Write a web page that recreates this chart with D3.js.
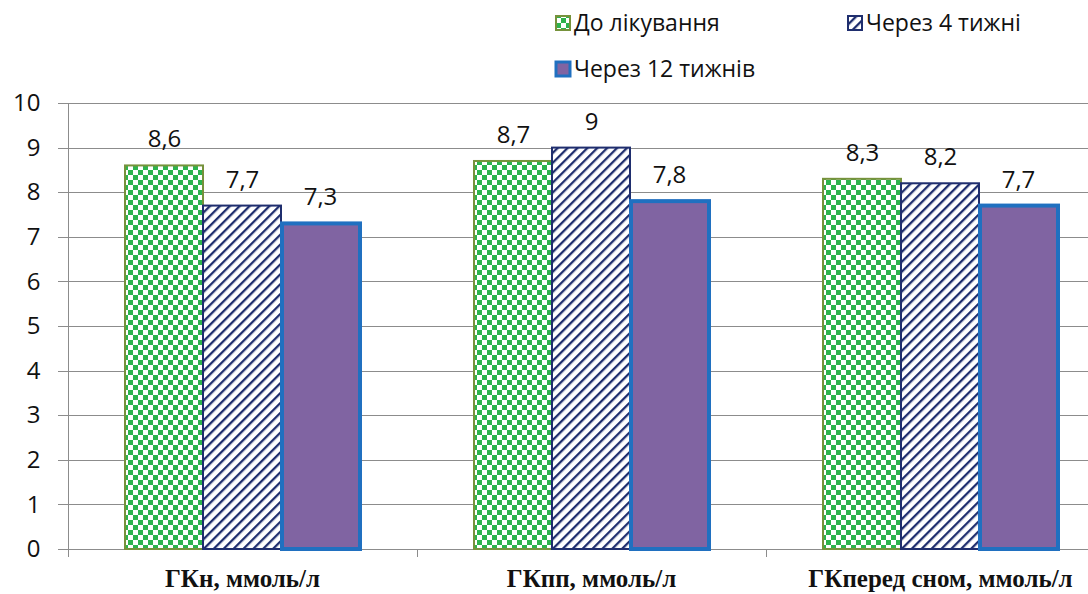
<!DOCTYPE html>
<html>
<head>
<meta charset="utf-8">
<script src="https://cdn.jsdelivr.net/npm/d3@7/dist/d3.min.js"></script>
<style>
  html, body { margin: 0; padding: 0; background: #fff; }
  svg { display: block; }
</style>
</head>
<body>
<svg id="chart" width="1088" height="594"></svg>
<script>
// Glucose levels per measurement, before and after treatment
const categories = ["ГКн, ммоль/л", "ГКпп, ммоль/л", "ГКперед сном, ммоль/л"];
const seriesNames = ["До лікування", "Через 4 тижні", "Через 12 тижнів"];
const beforeTreatment = [8.6, 8.7, 8.3];
const after4Weeks = [7.7, 9, 8.2];
const after12Weeks = [7.3, 7.8, 7.7];
const yTicks = [0, 1, 2, 3, 4, 5, 6, 7, 8, 9, 10];

const seriesValues = [beforeTreatment, after4Weeks, after12Weeks];

const svg = d3.select("#chart");
const W = 1088, H = 594;
const margin = { left: 68, top: 103, bottom: 45 };
const groupStep = 349;
const plotRight = margin.left + groupStep * categories.length;
const baseY = H - margin.bottom;

const numFont = "'Open Sans', 'Noto Sans', sans-serif";

// ---- fill patterns ----
const defs = svg.append("defs");

const checker = defs.append("pattern")
  .attr("id", "checker").attr("patternUnits", "userSpaceOnUse")
  .attr("width", 10).attr("height", 10);
checker.append("rect").attr("width", 10).attr("height", 10).attr("fill", "#ffffff");
checker.append("rect").attr("width", 5).attr("height", 5).attr("fill", "#2db34d");
checker.append("rect").attr("x", 5).attr("y", 5).attr("width", 5).attr("height", 5).attr("fill", "#2db34d");

const hatch = defs.append("pattern")
  .attr("id", "hatch").attr("patternUnits", "userSpaceOnUse")
  .attr("width", 7).attr("height", 7)
  .attr("patternTransform", "rotate(-45)");
hatch.append("rect").attr("width", 7).attr("height", 7).attr("fill", "#ffffff");
hatch.append("rect").attr("width", 7).attr("height", 2.3).attr("fill", "#1f2e6e");

const seriesStyle = [
  { fill: "url(#checker)", stroke: "#76923b", sw: 2 },
  { fill: "url(#hatch)", stroke: "#1f2e6e", sw: 2 },
  { fill: "#8064a2", stroke: "#2070c0", sw: 4 }
];

// ---- scales ----
const x0 = d3.scaleBand().domain(categories).range([margin.left, plotRight]).padding(0);
const x1 = d3.scaleBand().domain(seriesNames).range([0, x0.bandwidth()])
  .paddingInner(0).paddingOuter(0.737);
const y = d3.scaleLinear().domain([0, 10]).range([baseY, margin.top]);

// ---- gridlines ----
svg.append("g").selectAll("line").data(yTicks).join("line")
  .attr("x1", margin.left - 10).attr("x2", W)
  .attr("y1", d => Math.round(y(d)) + 0.5).attr("y2", d => Math.round(y(d)) + 0.5)
  .attr("stroke", "#8c8c8c").attr("stroke-width", 1);

// ---- y axis ----
const yAxis = svg.append("g")
  .attr("transform", `translate(${margin.left + 0.5},0)`)
  .call(d3.axisLeft(y).tickValues(yTicks).tickSize(0).tickPadding(28).tickFormat(d3.format("d")));
yAxis.select(".domain").attr("stroke", "#8c8c8c").attr("d", `M0,${margin.top}V${baseY + 8}`);
yAxis.selectAll("text")
  .attr("font-family", numFont).attr("font-size", 24).attr("fill", "#111");

// ---- category ticks ----
const catTicks = d3.range(categories.length + 1).map(i => margin.left + i * groupStep);
svg.append("g").selectAll("line").data(catTicks.slice(1)).join("line")
  .attr("x1", d => d + 0.5).attr("x2", d => d + 0.5)
  .attr("y1", baseY).attr("y2", baseY + 8)
  .attr("stroke", "#8c8c8c");

// ---- bars ----
const groups = svg.append("g").selectAll("g").data(categories).join("g")
  .attr("transform", d => `translate(${Math.round(x0(d))},0)`);

groups.each(function (cat, ci) {
  const g = d3.select(this);
  seriesNames.forEach((s, si) => {
    const v = seriesValues[si][ci];
    const st = seriesStyle[si];
    g.append("rect")
      .attr("x", Math.round(x1(s))).attr("y", y(v))
      .attr("width", Math.round(x1.bandwidth())).attr("height", y(0) - y(v))
      .attr("fill", st.fill).attr("stroke", st.stroke).attr("stroke-width", st.sw);
  });
  seriesNames.forEach((s, si) => {
    const v = seriesValues[si][ci];
    g.append("text")
      .attr("x", x1(s) + x1.bandwidth() / 2).attr("y", y(v) - 18)
      .attr("text-anchor", "middle")
      .attr("font-family", numFont).attr("font-size", 24).attr("fill", "#111")
      .text(String(v).replace(".", ","));
  });
});

// ---- category labels ----
svg.append("g").selectAll("text").data(categories).join("text")
  .attr("x", d => x0(d) + x0.bandwidth() / 2).attr("y", 587)
  .attr("text-anchor", "middle")
  .attr("font-family", "'Liberation Serif', 'DejaVu Serif', serif")
  .attr("font-weight", "bold").attr("font-size", 25).attr("fill", "#111")
  .text(d => d);

// ---- legend ----
const legendItems = [
  { name: seriesNames[0], x: 556, y: 23, style: seriesStyle[0] },
  { name: seriesNames[1], x: 848, y: 23, style: seriesStyle[1] },
  { name: seriesNames[2], x: 556, y: 69, style: seriesStyle[2] }
];
const legend = svg.append("g").selectAll("g").data(legendItems).join("g")
  .attr("transform", d => `translate(${d.x},${d.y})`);
legend.append("rect")
  .attr("x", 0).attr("y", -7).attr("width", 14).attr("height", 14)
  .attr("fill", d => d.style.fill).attr("stroke", d => d.style.stroke)
  .attr("stroke-width", d => Math.min(d.style.sw, 3));
legend.append("text")
  .attr("x", 18).attr("y", 0).attr("dy", "0.35em")
  .attr("font-family", numFont).attr("font-size", 23).attr("fill", "#111")
  .text(d => d.name);
</script>
</body>
</html>
